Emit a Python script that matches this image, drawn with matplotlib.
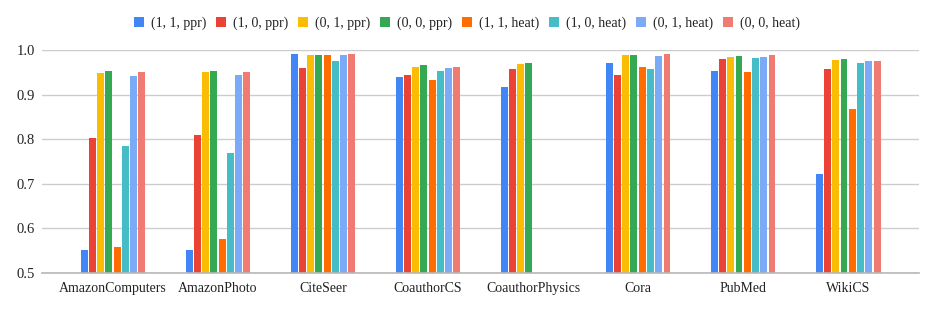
import numpy as np
import matplotlib.pyplot as plt

# datasets on the x axis
categories = ["AmazonComputers", "AmazonPhoto", "CiteSeer", "CoauthorCS",
              "CoauthorPhysics", "Cora", "PubMed", "WikiCS"]

series_names = ["(1, 1, ppr)", "(1, 0, ppr)", "(0, 1, ppr)", "(0, 0, ppr)",
                "(1, 1, heat)", "(1, 0, heat)", "(0, 1, heat)", "(0, 0, heat)"]

nan = np.nan
s_11_ppr = [0.552, 0.552, 0.992, 0.940, 0.916, 0.972, 0.954, 0.721]
s_10_ppr = [0.802, 0.809, 0.960, 0.945, 0.957, 0.945, 0.981, 0.957]
s_01_ppr = [0.949, 0.951, 0.990, 0.961, 0.968, 0.990, 0.984, 0.978]
s_00_ppr = [0.952, 0.952, 0.988, 0.966, 0.971, 0.990, 0.987, 0.979]
s_11_heat = [0.558, 0.576, 0.990, 0.933, nan, 0.961, 0.950, 0.868]
s_10_heat = [0.784, 0.770, 0.975, 0.952, nan, 0.957, 0.982, 0.972]
s_01_heat = [0.941, 0.945, 0.990, 0.960, nan, 0.987, 0.984, 0.975]
s_00_heat = [0.950, 0.951, 0.992, 0.963, nan, 0.992, 0.988, 0.975]

all_series = [s_11_ppr, s_10_ppr, s_01_ppr, s_00_ppr,
              s_11_heat, s_10_heat, s_01_heat, s_00_heat]

colors = ["#4285F4", "#EA4335", "#FBBC04", "#34A853",
          "#FF6D01", "#46BDC6", "#7BAAF7", "#F07B72"]

plt.rcParams["font.family"] = ["Liberation Serif", "DejaVu Serif"]

fig = plt.figure(figsize=(9.34, 3.11), dpi=100)
ax = fig.add_axes([0.045, 0.123, 0.939, 0.716])

x = np.arange(len(categories))
slot = 0.0786
bar_w = slot * 0.84
n = len(all_series)

bottom = 0.5
for i, (vals, name, col) in enumerate(zip(all_series, series_names, colors)):
    offs = (i - (n - 1) / 2) * slot
    v = np.array(vals, dtype=float)
    ax.bar(x + offs, v - bottom, bottom=bottom, width=bar_w, color=col,
           label=name, zorder=3)

ax.set_xlim(-0.675, len(categories) - 1 + 0.675)
ax.set_ylim(0.5, 1.0)
ax.set_yticks([0.5, 0.6, 0.7, 0.8, 0.9, 1.0])
ax.set_yticklabels(["0.5", "0.6", "0.7", "0.8", "0.9", "1.0"])
ax.set_xticks(x)
ax.set_xticklabels(categories)

ax.grid(axis="y", color="#cccccc", linewidth=1, zorder=0)
for side in ["top", "right", "left"]:
    ax.spines[side].set_visible(False)
ax.spines["bottom"].set_color("#b7b7b7")
ax.spines["bottom"].set_linewidth(1.2)
ax.spines["bottom"].set_zorder(4)
ax.tick_params(axis="both", length=0, labelsize=10, colors="#222222")
ax.tick_params(axis="x", pad=7)
ax.tick_params(axis="y", labelsize=10.5, pad=5)

# legend is centred on the whole figure, not the axes
handles, labels = ax.get_legend_handles_labels()
fig.legend(handles, labels, loc="center", bbox_to_anchor=(0.5, 0.926), ncol=8,
           frameon=False, fontsize=10, handlelength=0.75, handleheight=0.75,
           handletextpad=0.5, columnspacing=0.68, labelcolor="#222222")

fig.savefig("out.png", dpi=100)
